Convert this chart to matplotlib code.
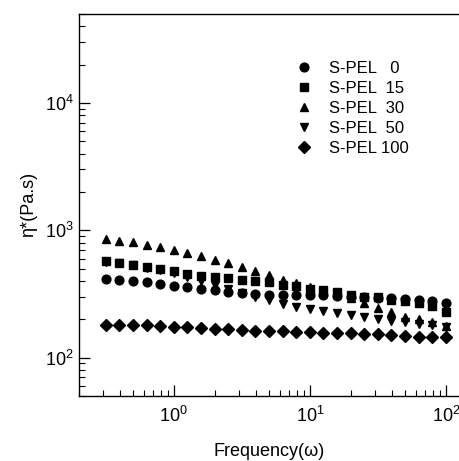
import matplotlib
matplotlib.use("Agg")
import matplotlib.pyplot as plt
from matplotlib.ticker import LogLocator, NullFormatter

plt.rcParams['font.family'] = ['Liberation Sans', 'DejaVu Sans']
plt.rcParams['mathtext.default'] = 'regular'

freq = [0.316, 0.398, 0.501, 0.631, 0.794, 1.0, 1.26, 1.58, 2.0, 2.51, 3.16, 3.98, 5.01,
        6.31, 7.94, 10.0, 12.6, 15.8, 20.0, 25.1, 31.6, 39.8, 50.1, 63.1, 79.4, 100.0]

pel0 = [414, 409, 402, 390, 378, 367, 356, 345, 337, 329, 321, 317, 313,
        313, 311, 311, 309, 306, 302, 299, 295, 292, 287, 281, 276, 268]
pel15 = [570, 553, 537, 514, 496, 476, 456, 440, 429, 421, 409, 397, 390,
         374, 362, 349, 337, 325, 311, 302, 297, 284, 276, 268, 255, 230]
pel30 = [855, 830, 805, 771, 734, 696, 664, 624, 588, 553, 515, 479, 448,
         409, 385, 358, 335, 315, 295, 268, 245, 228, 210, 200, 190, 178]
pel50 = [565, 550, 530, 510, 490, 460, 430, 400, 370, 345, 320, 300, 285,
         265, 250, 241, 232, 224, 217, 208, 200, 195, 190, 185, 180, 175]
pel100 = [181, 181, 180, 179, 177, 175, 173, 171, 169, 167, 165, 163, 162,
          161, 159, 158, 157, 156, 156, 154, 152, 150, 148, 146, 145, 144]

labels = ["S-PEL   0", "S-PEL  15", "S-PEL  30", "S-PEL  50", "S-PEL 100"]
markers = ['o', 's', '^', 'v', 'D']
series = [pel0, pel15, pel30, pel50, pel100]

fig = plt.figure(figsize=(4.60, 4.61), dpi=100)
ax = fig.add_axes([0.171, 0.141, 0.829, 0.829])

for vals, m, lab in zip(series, markers, labels):
    ms = 5.8 if m == 'D' else 6.3
    ax.plot(freq, vals, linestyle='none', marker=m, color='black', markersize=ms, label=lab)

ax.set_xscale('log')
ax.set_yscale('log')
ax.set_xlim(0.2, 127)
ax.set_ylim(50, 50000)

ax.spines['right'].set_visible(False)
for s in ['left', 'bottom', 'top']:
    ax.spines[s].set_linewidth(1.0)

ax.tick_params(which='both', direction='in', top=False, right=False, labelsize=13)
ax.tick_params(which='major', length=8, width=0.9)
ax.tick_params(which='minor', length=4, width=0.8)
ax.tick_params(axis='x', pad=7)
ax.yaxis.set_minor_locator(LogLocator(base=10, subs=range(2, 10)))
ax.xaxis.set_minor_locator(LogLocator(base=10, subs=range(2, 10)))
ax.xaxis.set_minor_formatter(NullFormatter())
ax.yaxis.set_minor_formatter(NullFormatter())

ax.set_xlabel("Frequency(\u03c9)", fontsize=13, labelpad=12.5)
ax.set_ylabel("\u03b7*(Pa.s)", fontsize=13, labelpad=6)

ax.legend(loc='upper left', bbox_to_anchor=(0.53, 0.915), frameon=False, fontsize=12,
          handletextpad=1.0, labelspacing=0.3, handlelength=1.0)

fig.savefig("out.png", dpi=100)
